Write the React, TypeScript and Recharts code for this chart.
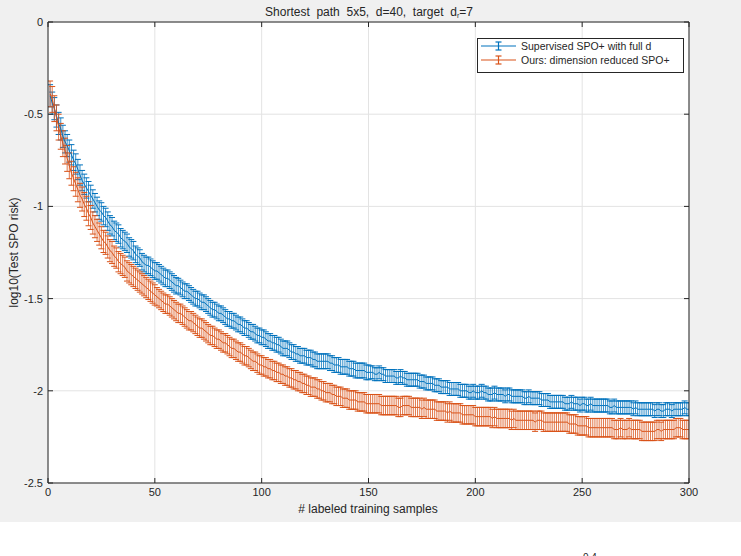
import React from 'react';
import { ComposedChart, Line, Bar, XAxis, YAxis, CartesianGrid, ReferenceLine } from 'recharts';

// mean log10 risk, supervised SPO+ with full d, samples 1..300
const supervisedMean = [
  -0.40,-0.44,-0.47,-0.51,-0.55,-0.58,-0.62,-0.65,-0.67,-0.70,
  -0.72,-0.75,-0.77,-0.80,-0.83,-0.86,-0.88,-0.90,-0.92,-0.94,
  -0.96,-0.98,-1.00,-1.02,-1.03,-1.05,-1.06,-1.08,-1.10,-1.11,
  -1.13,-1.14,-1.15,-1.17,-1.18,-1.19,-1.20,-1.22,-1.23,-1.24,
  -1.26,-1.27,-1.28,-1.30,-1.31,-1.32,-1.32,-1.33,-1.34,-1.35,
  -1.35,-1.36,-1.37,-1.38,-1.39,-1.39,-1.40,-1.41,-1.42,-1.43,
  -1.43,-1.44,-1.45,-1.46,-1.46,-1.47,-1.48,-1.49,-1.50,-1.50,
  -1.51,-1.52,-1.52,-1.53,-1.54,-1.55,-1.56,-1.56,-1.57,-1.58,
  -1.58,-1.59,-1.60,-1.61,-1.61,-1.62,-1.62,-1.63,-1.64,-1.64,
  -1.65,-1.66,-1.66,-1.67,-1.68,-1.68,-1.69,-1.70,-1.70,-1.71,
  -1.71,-1.72,-1.73,-1.73,-1.74,-1.74,-1.75,-1.75,-1.76,-1.77,
  -1.77,-1.77,-1.78,-1.79,-1.79,-1.80,-1.80,-1.81,-1.81,-1.81,
  -1.82,-1.82,-1.82,-1.83,-1.83,-1.84,-1.84,-1.84,-1.84,-1.84,
  -1.84,-1.85,-1.85,-1.86,-1.86,-1.86,-1.87,-1.87,-1.87,-1.87,
  -1.88,-1.88,-1.88,-1.89,-1.89,-1.89,-1.89,-1.89,-1.90,-1.90,
  -1.90,-1.90,-1.91,-1.91,-1.90,-1.91,-1.91,-1.92,-1.92,-1.92,
  -1.92,-1.92,-1.93,-1.93,-1.92,-1.93,-1.93,-1.94,-1.94,-1.94,
  -1.94,-1.94,-1.94,-1.95,-1.95,-1.95,-1.96,-1.96,-1.96,-1.96,
  -1.97,-1.97,-1.97,-1.98,-1.98,-1.98,-1.98,-1.99,-1.99,-1.99,
  -1.99,-1.99,-2.00,-2.00,-2.00,-2.00,-2.01,-2.01,-2.00,-2.01,
  -2.01,-2.01,-2.00,-2.01,-2.01,-2.02,-2.02,-2.02,-2.01,-2.02,
  -2.02,-2.02,-2.02,-2.03,-2.02,-2.02,-2.03,-2.03,-2.03,-2.03,
  -2.03,-2.03,-2.04,-2.04,-2.03,-2.04,-2.04,-2.04,-2.04,-2.04,
  -2.05,-2.05,-2.05,-2.05,-2.06,-2.06,-2.06,-2.06,-2.06,-2.06,
  -2.06,-2.07,-2.07,-2.07,-2.06,-2.07,-2.07,-2.07,-2.08,-2.07,
  -2.07,-2.08,-2.08,-2.07,-2.08,-2.08,-2.08,-2.08,-2.08,-2.08,
  -2.08,-2.08,-2.09,-2.09,-2.08,-2.09,-2.09,-2.09,-2.09,-2.09,
  -2.09,-2.09,-2.09,-2.10,-2.09,-2.10,-2.10,-2.10,-2.10,-2.10,
  -2.10,-2.10,-2.10,-2.11,-2.10,-2.10,-2.11,-2.11,-2.10,-2.10,
  -2.10,-2.11,-2.10,-2.10,-2.10,-2.10,-2.10,-2.09,-2.10,-2.10,
];

// mean log10 risk, ours (dimension reduced SPO+), samples 1..300
const reducedMean = [
  -0.39,-0.42,-0.47,-0.52,-0.57,-0.62,-0.66,-0.70,-0.74,-0.78,
  -0.82,-0.85,-0.88,-0.91,-0.94,-0.96,-0.99,-1.01,-1.04,-1.06,
  -1.09,-1.11,-1.13,-1.15,-1.17,-1.19,-1.20,-1.22,-1.24,-1.25,
  -1.27,-1.28,-1.30,-1.31,-1.32,-1.33,-1.35,-1.36,-1.37,-1.38,
  -1.39,-1.40,-1.41,-1.42,-1.43,-1.44,-1.45,-1.46,-1.47,-1.48,
  -1.49,-1.50,-1.51,-1.52,-1.53,-1.53,-1.54,-1.55,-1.56,-1.57,
  -1.58,-1.58,-1.59,-1.60,-1.61,-1.62,-1.62,-1.63,-1.64,-1.65,
  -1.66,-1.66,-1.67,-1.68,-1.69,-1.70,-1.70,-1.71,-1.72,-1.72,
  -1.73,-1.74,-1.74,-1.75,-1.76,-1.77,-1.77,-1.78,-1.79,-1.79,
  -1.80,-1.81,-1.81,-1.82,-1.83,-1.84,-1.84,-1.85,-1.86,-1.86,
  -1.87,-1.87,-1.88,-1.88,-1.89,-1.89,-1.90,-1.90,-1.91,-1.91,
  -1.92,-1.92,-1.93,-1.93,-1.94,-1.94,-1.95,-1.95,-1.96,-1.96,
  -1.97,-1.97,-1.98,-1.98,-1.98,-1.99,-1.99,-2.00,-2.00,-2.01,
  -2.01,-2.01,-2.02,-2.02,-2.03,-2.03,-2.03,-2.04,-2.04,-2.04,
  -2.05,-2.05,-2.05,-2.05,-2.06,-2.06,-2.06,-2.06,-2.07,-2.07,
  -2.07,-2.07,-2.07,-2.07,-2.07,-2.08,-2.08,-2.08,-2.08,-2.08,
  -2.08,-2.08,-2.08,-2.09,-2.09,-2.08,-2.08,-2.08,-2.08,-2.09,
  -2.09,-2.09,-2.09,-2.09,-2.10,-2.09,-2.10,-2.10,-2.10,-2.10,
  -2.10,-2.11,-2.11,-2.11,-2.11,-2.11,-2.12,-2.11,-2.12,-2.12,
  -2.12,-2.12,-2.12,-2.13,-2.13,-2.13,-2.13,-2.13,-2.13,-2.14,
  -2.14,-2.14,-2.14,-2.14,-2.14,-2.14,-2.14,-2.15,-2.14,-2.15,
  -2.15,-2.15,-2.15,-2.15,-2.15,-2.15,-2.16,-2.15,-2.16,-2.16,
  -2.16,-2.16,-2.16,-2.16,-2.16,-2.16,-2.16,-2.17,-2.16,-2.16,
  -2.16,-2.17,-2.17,-2.17,-2.17,-2.17,-2.17,-2.17,-2.17,-2.17,
  -2.17,-2.17,-2.17,-2.18,-2.18,-2.18,-2.18,-2.19,-2.19,-2.19,
  -2.19,-2.19,-2.20,-2.20,-2.20,-2.20,-2.20,-2.20,-2.20,-2.20,
  -2.20,-2.20,-2.20,-2.20,-2.21,-2.21,-2.21,-2.20,-2.21,-2.21,
  -2.21,-2.20,-2.21,-2.21,-2.21,-2.21,-2.21,-2.22,-2.22,-2.22,
  -2.22,-2.22,-2.22,-2.22,-2.21,-2.21,-2.22,-2.21,-2.21,-2.21,
  -2.21,-2.21,-2.21,-2.20,-2.20,-2.20,-2.21,-2.21,-2.21,-2.21,
];

// error bar half-lengths, one value per block of 10 samples
const supervisedErrByBlock = [
  0.06,0.055,0.05,0.05,0.045,0.045,0.04,0.04,0.04,0.04,
  0.04,0.04,0.04,0.04,0.04,0.035,0.035,0.035,0.035,0.035,
  0.035,0.035,0.035,0.035,0.035,0.035,0.035,0.035,0.035,0.035,
];
const reducedErrByBlock = [
  0.07,0.065,0.06,0.055,0.055,0.05,0.05,0.05,0.05,0.05,
  0.05,0.05,0.05,0.05,0.05,0.05,0.05,0.05,0.05,0.05,
  0.05,0.05,0.05,0.05,0.05,0.05,0.05,0.05,0.05,0.05,
];

const xTicks = [0, 50, 100, 150, 200, 250, 300];
const yTicks = [-2.5, -2, -1.5, -1, -0.5, 0];
const seriesNames = ['Supervised SPO+ with full d', 'Ours: dimension reduced SPO+'];
const titleText = 'Shortest  path  5x5,  d=40,  target  d';
const xLabel = '# labeled training samples';
const yLabel = 'log10(Test SPO risk)';

const rows = supervisedMean.map((v, i) => {
  const se = supervisedErrByBlock[Math.floor(i / 10)];
  const r = reducedMean[i];
  const re = reducedErrByBlock[Math.floor(i / 10)];
  return {
    n: i + 1,
    sup: v,
    supRange: [v - se, v + se],
    red: r,
    redRange: [r - re, r + re],
  };
});

const BLUE = '#0072BD';
const ORANGE = '#D95319';
const AXIS = '#262626';
const FONT = '"Liberation Sans", Arial, Helvetica, sans-serif';

const W = 741;
const FIG_H = 522;
const PL = 48;
const PR = 689;
const PT = 22;
const PB = 483;
const CAP = 3;

const makeErrShape = (color: string) => (props: any) => {
  const { x, y, width, height } = props;
  if (x == null || y == null) return <g />;
  const cx = x + (width || 0) / 2;
  const top = Math.min(y, y + height);
  const bottom = Math.max(y, y + height);
  return (
    <g stroke={color} fill="none">
      <line x1={cx} x2={cx} y1={top} y2={bottom} strokeWidth={0.8} />
      <line x1={cx - CAP} x2={cx + CAP} y1={top} y2={top} strokeWidth={1} />
      <line x1={cx - CAP} x2={cx + CAP} y1={bottom} y2={bottom} strokeWidth={1} />
    </g>
  );
};
const blueErrShape = makeErrShape(BLUE);
const orangeErrShape = makeErrShape(ORANGE);

const XTick = (props: any) => {
  const { x, payload } = props;
  return (
    <g>
      <line x1={x} x2={x} y1={PB} y2={PB - 5} stroke={AXIS} strokeWidth={1} />
      <line x1={x} x2={x} y1={PT} y2={PT + 5} stroke={AXIS} strokeWidth={1} />
      <text x={x} y={PB + 13} textAnchor="middle" fontSize={11} fill={AXIS} fontFamily={FONT}>
        {payload.value}
      </text>
    </g>
  );
};

const YTick = (props: any) => {
  const { y, payload } = props;
  return (
    <g>
      <line x1={PL} x2={PL + 5} y1={y} y2={y} stroke={AXIS} strokeWidth={1} />
      <line x1={PR} x2={PR - 5} y1={y} y2={y} stroke={AXIS} strokeWidth={1} />
      <text x={PL - 5} y={y + 4} textAnchor="end" fontSize={11} fill={AXIS} fontFamily={FONT}>
        {payload.value}
      </text>
    </g>
  );
};

const Overlay = () => {
  const rowsY = [46, 60];
  const colors = [BLUE, ORANGE];
  return (
    <svg width={W} height={FIG_H} style={{ position: 'absolute', left: 0, top: 0, pointerEvents: 'none' }}>
      <rect x={477.5} y={38.5} width={206} height={34} fill="#ffffff" stroke={AXIS} strokeWidth={1} />
      {seriesNames.map((name, i) => (
        <g key={name}>
          <line x1={481} x2={516} y1={rowsY[i]} y2={rowsY[i]} stroke={colors[i]} strokeWidth={1.2} />
          <line x1={498.5} x2={498.5} y1={rowsY[i] - 4} y2={rowsY[i] + 4} stroke={colors[i]} strokeWidth={1.2} />
          <line x1={495.5} x2={501.5} y1={rowsY[i] - 4} y2={rowsY[i] - 4} stroke={colors[i]} strokeWidth={1.2} />
          <line x1={495.5} x2={501.5} y1={rowsY[i] + 4} y2={rowsY[i] + 4} stroke={colors[i]} strokeWidth={1.2} />
          <text x={521} y={rowsY[i] + 4} fontSize={10.5} fill={AXIS} fontFamily={FONT}>
            {name}
          </text>
        </g>
      ))}
      <text x={369} y={16} textAnchor="middle" fontSize={12} fill={AXIS} fontFamily={FONT} xmlSpace="preserve" style={{ whiteSpace: 'pre' }}>
        {titleText}
        <tspan fontSize={7} dy={2}>r</tspan>
        <tspan dy={-2}>=7</tspan>
      </text>
      <text x={368} y={513} textAnchor="middle" fontSize={12} fill={AXIS} fontFamily={FONT}>
        {xLabel}
      </text>
      <text
        x={0}
        y={0}
        transform={`translate(18, ${(PT + PB) / 2}) rotate(-90)`}
        textAnchor="middle"
        fontSize={12}
        fill={AXIS}
        fontFamily={FONT}
      >
        {yLabel}
      </text>
    </svg>
  );
};

export default function App() {
  return (
    <div style={{ position: 'fixed', left: 0, top: 0, width: W, height: 556, overflow: 'hidden', background: '#ffffff' }}>
      <div style={{ position: 'absolute', left: 0, top: 0, width: W, height: FIG_H, background: '#f0f0f0' }}>
        <ComposedChart
          width={W}
          height={FIG_H}
          data={rows}
          margin={{ top: PT, right: W - PR, bottom: 0, left: 0 }}
          barGap={-2}
          barCategoryGap={0}
        >
          <CartesianGrid stroke="#e3e3e3" strokeWidth={1} fill="#ffffff" />
          <XAxis
            dataKey="n"
            type="number"
            domain={[0, 300]}
            ticks={xTicks}
            interval={0}
            allowDataOverflow
            height={FIG_H - PB}
            tickLine={false}
            tickSize={0}
            tickMargin={0}
            axisLine={{ stroke: AXIS, strokeWidth: 1 }}
            tick={<XTick />}
          />
          <YAxis
            type="number"
            domain={[-2.5, 0]}
            ticks={yTicks}
            interval={0}
            allowDataOverflow
            width={PL}
            tickLine={false}
            tickSize={0}
            tickMargin={0}
            axisLine={{ stroke: AXIS, strokeWidth: 1 }}
            tick={<YTick />}
          />
          <Bar dataKey="supRange" barSize={2} shape={blueErrShape} isAnimationActive={false} activeBar={false} />
          <Bar dataKey="redRange" barSize={2} shape={orangeErrShape} isAnimationActive={false} activeBar={false} />
          <Line dataKey="sup" stroke={BLUE} strokeWidth={1} dot={false} activeDot={false} isAnimationActive={false} type="linear" />
          <Line dataKey="red" stroke={ORANGE} strokeWidth={1} dot={false} activeDot={false} isAnimationActive={false} type="linear" />
          <ReferenceLine y={0} stroke={AXIS} strokeWidth={1} ifOverflow="visible" />
          <ReferenceLine x={300} stroke={AXIS} strokeWidth={1} ifOverflow="visible" />
        </ComposedChart>
        <Overlay />
      </div>
      <div style={{ position: 'absolute', left: 583, top: 552, fontSize: 10, fontFamily: FONT, color: '#262626', lineHeight: '12px' }}>
        0.4
      </div>
    </div>
  );
}
